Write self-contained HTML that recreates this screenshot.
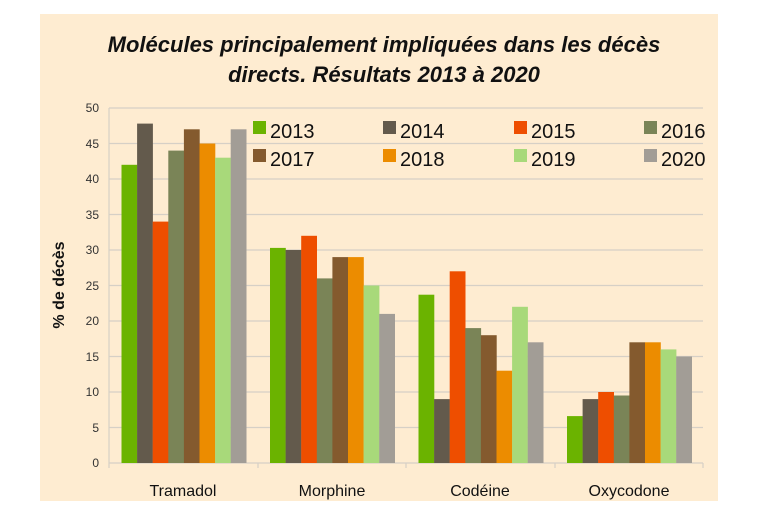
<!DOCTYPE html>
<html><head><meta charset="utf-8"><style>
body{margin:0;background:#fff;width:769px;height:525px;overflow:hidden}
svg{display:block}
text{font-family:"Liberation Sans",sans-serif}
</style></head><body>
<svg width="769" height="525" xmlns="http://www.w3.org/2000/svg">
<rect x="40" y="14" width="678" height="487" fill="#feecd1"/>
<text x="384" y="52" text-anchor="middle" font-size="22" font-weight="bold" font-style="italic" fill="#111">Molécules principalement impliquées dans les décès</text>
<text x="384" y="82" text-anchor="middle" font-size="22" font-weight="bold" font-style="italic" fill="#111">directs. Résultats 2013 à 2020</text>
<g stroke="#d6d0c6" stroke-width="1.2">
<line x1="109" x2="703" y1="108" y2="108"/><line x1="109" x2="703" y1="143.5" y2="143.5"/>
<line x1="109" x2="703" y1="179" y2="179"/><line x1="109" x2="703" y1="214.5" y2="214.5"/>
<line x1="109" x2="703" y1="250" y2="250"/><line x1="109" x2="703" y1="285.5" y2="285.5"/>
<line x1="109" x2="703" y1="321" y2="321"/><line x1="109" x2="703" y1="356.5" y2="356.5"/>
<line x1="109" x2="703" y1="392" y2="392"/><line x1="109" x2="703" y1="427.5" y2="427.5"/>
<line x1="109" x2="703" y1="463" y2="463"/>
<line x1="109" x2="109" y1="108" y2="463"/>
<line x1="109" x2="109" y1="463" y2="468"/><line x1="258" x2="258" y1="463" y2="468"/>
<line x1="406" x2="406" y1="463" y2="468"/><line x1="555" x2="555" y1="463" y2="468"/><line x1="703" x2="703" y1="463" y2="468"/>
</g>
<g font-size="12" fill="#333" text-anchor="end">
<text x="99" y="112">50</text><text x="99" y="148">45</text><text x="99" y="183">40</text><text x="99" y="219">35</text><text x="99" y="254">30</text><text x="99" y="290">25</text><text x="99" y="325">20</text><text x="99" y="361">15</text><text x="99" y="396">10</text><text x="99" y="432">5</text><text x="99" y="467">0</text>
</g>
<text transform="translate(64,285) rotate(-90)" text-anchor="middle" font-size="16" font-weight="bold" fill="#111">% de décès</text>
<g>
<rect x="121.5" y="164.8" width="15.8" height="298.2" fill="#6bb300"/>
<rect x="137.1" y="123.6" width="15.8" height="339.4" fill="#635a4c"/>
<rect x="152.7" y="221.6" width="15.8" height="241.4" fill="#ee4e00"/>
<rect x="168.3" y="150.6" width="15.8" height="312.4" fill="#7a8457"/>
<rect x="183.9" y="129.3" width="15.8" height="333.7" fill="#845a2e"/>
<rect x="199.5" y="143.5" width="15.8" height="319.5" fill="#ec8c00"/>
<rect x="215.1" y="157.7" width="15.8" height="305.3" fill="#a8d97a"/>
<rect x="230.7" y="129.3" width="15.8" height="333.7" fill="#a29d96"/>

<rect x="270" y="247.9" width="15.8" height="215.1" fill="#6bb300"/>
<rect x="285.6" y="250" width="15.8" height="213" fill="#635a4c"/>
<rect x="301.2" y="235.8" width="15.8" height="227.2" fill="#ee4e00"/>
<rect x="316.8" y="278.4" width="15.8" height="184.6" fill="#7a8457"/>
<rect x="332.4" y="257.1" width="15.8" height="205.9" fill="#845a2e"/>
<rect x="348" y="257.1" width="15.8" height="205.9" fill="#ec8c00"/>
<rect x="363.6" y="285.5" width="15.8" height="177.5" fill="#a8d97a"/>
<rect x="379.2" y="313.9" width="15.8" height="149.1" fill="#a29d96"/>

<rect x="418.5" y="294.7" width="15.8" height="168.3" fill="#6bb300"/>
<rect x="434.1" y="399.1" width="15.8" height="63.9" fill="#635a4c"/>
<rect x="449.7" y="271.3" width="15.8" height="191.7" fill="#ee4e00"/>
<rect x="465.3" y="328.1" width="15.8" height="134.9" fill="#7a8457"/>
<rect x="480.9" y="335.2" width="15.8" height="127.8" fill="#845a2e"/>
<rect x="496.5" y="370.7" width="15.8" height="92.3" fill="#ec8c00"/>
<rect x="512.1" y="306.8" width="15.8" height="156.2" fill="#a8d97a"/>
<rect x="527.7" y="342.3" width="15.8" height="120.7" fill="#a29d96"/>

<rect x="567" y="416.1" width="15.8" height="46.9" fill="#6bb300"/>
<rect x="582.6" y="399.1" width="15.8" height="63.9" fill="#635a4c"/>
<rect x="598.2" y="392" width="15.8" height="71" fill="#ee4e00"/>
<rect x="613.8" y="395.5" width="15.8" height="67.5" fill="#7a8457"/>
<rect x="629.4" y="342.3" width="15.8" height="120.7" fill="#845a2e"/>
<rect x="645" y="342.3" width="15.8" height="120.7" fill="#ec8c00"/>
<rect x="660.6" y="349.4" width="15.8" height="113.6" fill="#a8d97a"/>
<rect x="676.2" y="356.5" width="15.8" height="106.5" fill="#a29d96"/>
</g>
<g font-size="16" fill="#111" text-anchor="middle">
<text x="183" y="496">Tramadol</text><text x="332" y="496">Morphine</text><text x="480" y="496">Codéine</text><text x="629" y="496">Oxycodone</text>
</g>
<g font-size="20" fill="#111">
<rect x="253" y="121" width="13" height="13" fill="#6bb300"/><text x="270" y="138">2013</text>
<rect x="383" y="121" width="13" height="13" fill="#635a4c"/><text x="400" y="138">2014</text>
<rect x="514" y="121" width="13" height="13" fill="#ee4e00"/><text x="531" y="138">2015</text>
<rect x="644" y="121" width="13" height="13" fill="#7a8457"/><text x="661" y="138">2016</text>
<rect x="253" y="149" width="13" height="13" fill="#845a2e"/><text x="270" y="166">2017</text>
<rect x="383" y="149" width="13" height="13" fill="#ec8c00"/><text x="400" y="166">2018</text>
<rect x="514" y="149" width="13" height="13" fill="#a8d97a"/><text x="531" y="166">2019</text>
<rect x="644" y="149" width="13" height="13" fill="#a29d96"/><text x="661" y="166">2020</text>
</g>
</svg>
</body></html>
